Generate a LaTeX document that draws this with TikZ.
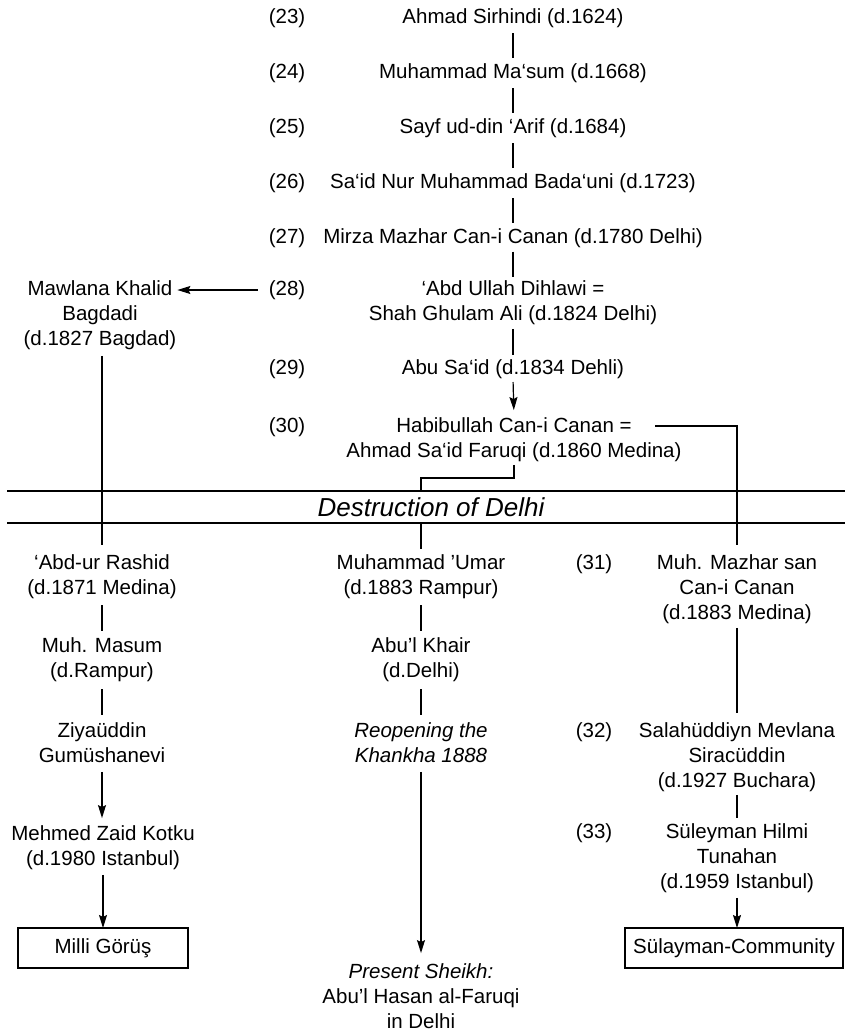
\documentclass[tikz,border=0pt]{standalone}
\usepackage{fontspec}
\setmainfont{Liberation Sans}
\usetikzlibrary{arrows.meta}
\newcommand\rs{\rule[-4.5pt]{0pt}{19.5pt}}
\tikzset{
  nm/.style={align=center, inner sep=0pt, outer sep=0pt,
    font=\fontsize{20.5}{25}\selectfont,
    execute at begin node=\rs, execute at end node=\rs},
  nmi/.style={nm, font=\fontsize{20.5}{25}\selectfont\itshape},
  lab/.style={inner sep=0pt, outer sep=0pt, font=\fontsize{20.5}{25}\selectfont,
    execute at begin node=\rs},
  boxn/.style={nm, draw, line width=1.2pt, minimum height=40pt},
  ln/.style={line width=1.2pt},
  arr/.style={line width=1.2pt, -{Stealth[length=13pt,width=8pt,inset=2pt]}},
}
\begin{document}
\begin{tikzpicture}[x=1pt,y=-1pt]
\useasboundingbox (0,0) rectangle (845,1031);

% top chain
\node[lab] (l23) at (287,18) {(23)};
\node[nm] (n23) at (513,18) {Ahmad Sirhindi (d.1624)};
\node[lab] (l24) at (287,73) {(24)};
\node[nm] (n24) at (513,73) {Muhammad Ma‘sum (d.1668)};
\node[lab] (l25) at (287,128) {(25)};
\node[nm] (n25) at (513,128) {Sayf ud-din ‘Arif (d.1684)};
\node[lab] (l26) at (287,183) {(26)};
\node[nm] (n26) at (513,183) {Sa‘id Nur Muhammad Bada‘uni (d.1723)};
\node[lab] (l27) at (287,238) {(27)};
\node[nm] (n27) at (513,238) {Mirza Mazhar Can-i Canan (d.1780 Delhi)};
\node[lab] (l28) at (287,290) {(28)};
\node[nm] (n28) at (513,302.5) {‘Abd Ullah Dihlawi =\\Shah Ghulam Ali (d.1824 Delhi)};
\node[lab] (l29) at (287,369) {(29)};
\node[nm] (n29) at (513,369) {Abu Sa‘id (d.1834 Dehli)};
\node[lab] (l30) at (287,427) {(30)};
\node[nm] (n30) at (514,439.5) {Habibullah Can-i Canan =\\Ahmad Sa‘id Faruqi (d.1860 Medina)};

\node[nm] (khalid) at (100,315) {Mawlana Khalid\\Bagdadi\\(d.1827 Bagdad)};

\draw[ln, shorten <=5.5pt, shorten >=5.5pt] (n23.south) -- (n24.north);
\draw[ln, shorten <=5.5pt, shorten >=5.5pt] (n24.south) -- (n25.north);
\draw[ln, shorten <=5.5pt, shorten >=5.5pt] (n25.south) -- (n26.north);
\draw[ln, shorten <=5.5pt, shorten >=5.5pt] (n26.south) -- (n27.north);
\draw[ln, shorten <=3.75pt, shorten >=3.75pt] (n27.south) -- (n28.north);
\draw[ln, shorten <=4.25pt, shorten >=4.25pt] (n28.south) -- (n29.north);
\draw[arr, shorten <=3.25pt, shorten >=7.25pt] (n29.south) -- (n30.north);
\draw[arr, shorten <=11pt, shorten >=1pt] (l28.west) -- (l28.west -| khalid.east);

% band
\coordinate (b1l) at (7,491);
\coordinate (b1r) at (845,491);
\coordinate (b2l) at (7,523);
\coordinate (b2r) at (845,523);
\draw[line width=1.3pt] (b1l) -- (b1r);
\draw[line width=1.3pt] (b2l) -- (b2r);
\node[inner sep=0pt, font=\fontsize{26}{30}\selectfont\itshape] (destr) at (431,507) {Destruction of Delhi};

% lower columns
\node[nm] (rashid) at (102,576.5) {‘Abd-ur Rashid\\(d.1871 Medina)};
\node[nm] (masum) at (102,659.5) {Muh. Masum\\(d.Rampur)};
\node[nm] (ziya) at (102,744.5) {Ziyaüddin\\Gumüshanevi};
\node[nm] (kotku) at (103,847.5) {Mehmed Zaid Kotku\\(d.1980 Istanbul)};
\node[boxn, minimum width=170pt] (milli) at (103,948) {Milli Görüş};

\node[nm] (umar) at (421,576.5) {Muhammad ’Umar\\(d.1883 Rampur)};
\node[nm] (khair) at (421,659.5) {Abu’l Khair\\(d.Delhi)};
\node[nmi] (reopen) at (421,744.5) {Reopening the\\Khankha 1888};
\node[nm] (present) at (421,998) {{\itshape Present Sheikh:}\\Abu’l Hasan al-Faruqi\\in Delhi};

\node[lab] (l31) at (594,564) {(31)};
\node[nm] (mazhar) at (737,589) {Muh. Mazhar san\\Can-i Canan\\(d.1883 Medina)};
\node[lab] (l32) at (594,732) {(32)};
\node[nm] (salah) at (737,757) {Salahüddiyn Mevlana\\Siracüddin\\(d.1927 Buchara)};
\node[lab] (l33) at (594,833) {(33)};
\node[nm] (sul) at (737,858) {Süleyman Hilmi\\Tunahan\\(d.1959 Istanbul)};
\node[boxn, minimum width=218pt] (community) at (734,948) {Sülayman-Community};

% connectors across the band
\draw[ln, shorten <=6.25pt, shorten >=9.25pt] (rashid.north |- khalid.south) -- (rashid.north);
\coordinate (bk) at (421,478);
\draw[ln, shorten <=3.25pt] (n30.south) |- (bk) -- (bk |- b1l);
\draw[ln, shorten >=5.25pt] (b2l -| umar.north) -- (umar.north);
\coordinate (hb) at (655,426);
\draw[ln, shorten >=9.25pt] (hb) -| (mazhar.north);

% left column
\draw[ln, shorten <=6.75pt, shorten >=6.75pt] (rashid.south) -- (masum.north);
\draw[ln, shorten <=7.75pt, shorten >=7.75pt] (masum.south) -- (ziya.north);
\draw[arr, shorten <=5.25pt, shorten >=7.25pt] (ziya.south) -- (ziya.south |- kotku.north);
\draw[arr, shorten <=5.25pt] (kotku.south) -- (kotku.south |- milli.north);

% middle column
\draw[ln, shorten <=6.75pt, shorten >=6.75pt] (umar.south) -- (khair.north);
\draw[ln, shorten <=7.75pt, shorten >=7.75pt] (khair.south) -- (reopen.north);
\draw[arr, shorten <=5.25pt, shorten >=10.25pt] (reopen.south) -- (present.north);

% right column
\draw[ln, shorten <=4.25pt, shorten >=9.25pt] (mazhar.south) -- (salah.north);
\draw[ln, shorten <=3.25pt, shorten >=5.25pt] (salah.south) -- (sul.north);
\draw[arr, shorten <=5.25pt] (sul.south) -- (sul.south |- community.north);
\end{tikzpicture}
\end{document}
